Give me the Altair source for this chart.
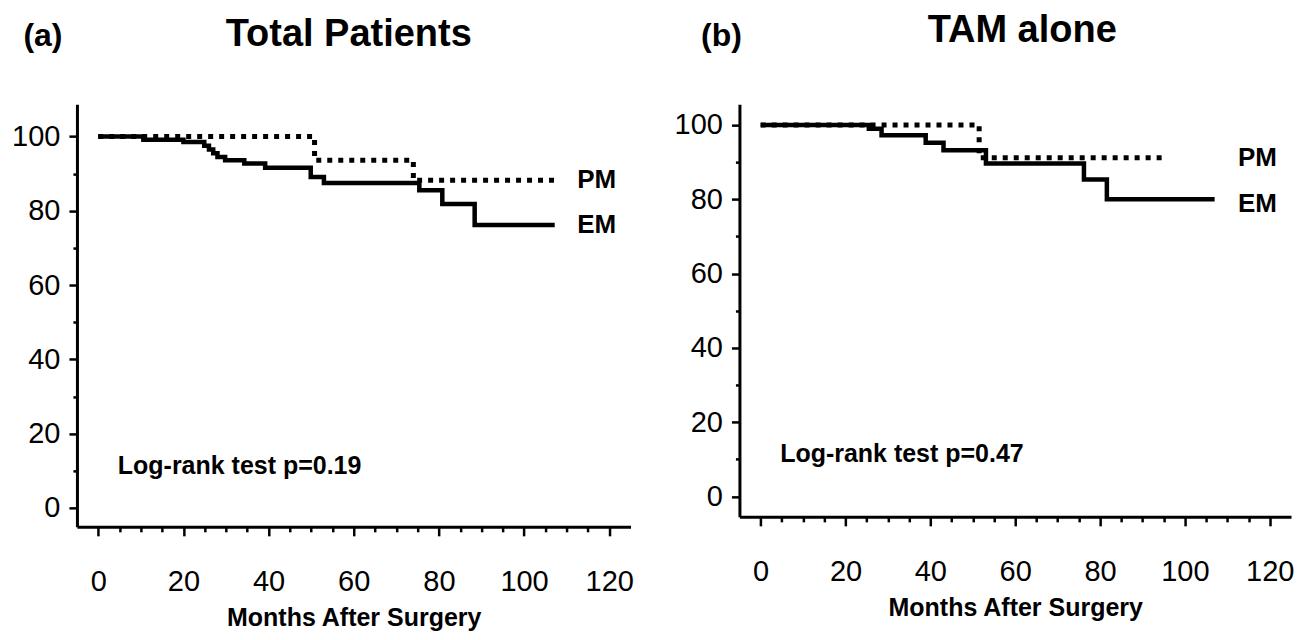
import altair as alt
import pandas as pd

# ---------------- data ----------------
# (a) Total Patients
a_em_month = [0, 10.6, 20, 24.9, 26, 27, 28, 29.8, 34.3, 39.2, 49.9, 53, 75.4, 80.8, 88.4, 107.2]
a_em_surv = [100, 99.1, 98.5, 97.5, 96.5, 95.5, 94.5, 93.6, 92.7, 91.6, 89.1, 87.5, 85.5, 81.8, 76.2, 76.2]
a_pm_month = [0, 50.8, 74, 108]
a_pm_surv = [100, 93.6, 88.2, 88.2]

# (b) TAM alone
b_em_month = [0, 25.5, 28.5, 38.9, 43.1, 53.1, 76.2, 81.6, 107]
b_em_surv = [100, 99.0, 97.2, 95.2, 93.2, 89.6, 85.3, 80.0, 80.0]
b_pm_month = [0, 51.5, 95]
b_pm_surv = [100, 91.2, 91.2]

groups = ["PM", "EM"]
label_month = 112.5
a_label_surv = [88.2, 76.2]
b_label_surv = [91.0, 78.8]

pvalue_text = ["Log-rank test  p=0.19", "Log-rank test  p=0.47"]
pvalue_month = 4.6
pvalue_surv = 11.3

x_ticks = list(range(0, 121, 5))
y_ticks = list(range(0, 101, 10))

FONT = "Liberation Sans, Arial, sans-serif"


def panel(em_m, em_s, pm_m, pm_s, lab_s, ptxt, ydom, width, height,
          title, title_x, title_y, tag, tag_x, tag_y):
    em = pd.DataFrame({"month": em_m, "surv": em_s})
    pm = pd.DataFrame({"month": pm_m, "surv": pm_s})
    labs = pd.DataFrame({"month": [label_month] * 2, "surv": lab_s, "txt": groups})
    pv = pd.DataFrame({"month": [pvalue_month], "surv": [pvalue_surv], "txt": [ptxt]})

    xs = alt.Scale(domain=[-5, 125], nice=False, zero=False)
    ys = alt.Scale(domain=ydom, nice=False, zero=False)
    xax = alt.Axis(
        values=x_ticks, labelExpr="datum.value % 20 === 0 ? datum.label : ''",
        tickSize={"condition": {"test": "datum.value % 20 === 0", "value": 9}, "value": 5},
        tickWidth=2.5, tickColor="black", domainColor="black", domainWidth=3,
        labelFont=FONT, labelFontSize=29, labelColor="black", labelPadding=32,
        labelFlush=False, labelOverlap=False, grid=False,
        title="Months After Surgery", titleFont=FONT, titleFontSize=25,
        titleFontWeight="bold", titleColor="black", titlePadding=9,
    )
    yax = alt.Axis(
        values=y_ticks, labelExpr="datum.value % 20 === 0 ? datum.label : ''",
        tickSize={"condition": {"test": "datum.value % 20 === 0", "value": 8}, "value": 4},
        tickWidth=2.5, tickColor="black", domainColor="black", domainWidth=3,
        labelFont=FONT, labelFontSize=29, labelColor="black", labelPadding=9,
        labelOverlap=False, grid=False, title=None,
    )
    X = alt.X("month:Q", scale=xs, axis=xax)
    Y = alt.Y("surv:Q", scale=ys, axis=yax)

    pm_line = alt.Chart(pm).mark_line(
        interpolate="step-after", color="black", strokeWidth=5,
        strokeDash=[5, 6], strokeCap="butt").encode(x=X, y=Y)
    em_line = alt.Chart(em).mark_line(
        interpolate="step-after", color="black", strokeWidth=4.5,
        strokeCap="butt").encode(x=X, y=Y)
    lab = alt.Chart(labs).mark_text(
        align="left", baseline="middle", font=FONT, fontSize=26,
        fontWeight="bold", color="black").encode(x=X, y=Y, text="txt:N")
    ptext = alt.Chart(pv).mark_text(
        align="left", baseline="middle", font=FONT, fontSize=25,
        fontWeight="bold", color="black").encode(x=X, y=Y, text="txt:N")
    ttl = alt.Chart(pd.DataFrame({"txt": [title]})).mark_text(
        align="center", baseline="alphabetic", font=FONT, fontSize=38,
        fontWeight="bold", color="black").encode(
        x=alt.value(title_x), y=alt.value(title_y), text="txt:N")
    tg = alt.Chart(pd.DataFrame({"txt": [tag]})).mark_text(
        align="center", baseline="alphabetic", font=FONT, fontSize=32,
        fontWeight="bold", color="black").encode(
        x=alt.value(tag_x), y=alt.value(tag_y), text="txt:N")

    return alt.layer(pm_line, em_line, lab, ptext, ttl, tg).properties(
        width=width, height=height)


pa = panel(a_em_month, a_em_surv, a_pm_month, a_pm_surv, a_label_surv,
           pvalue_text[0], [-5.1, 108.7], 554, 423,
           "Total Patients", 272, -58, "(a)", -34, -58)
pb = panel(b_em_month, b_em_surv, b_pm_month, b_pm_surv, b_label_surv,
           pvalue_text[1], [-5.5, 105.6], 552, 413,
           "TAM alone", 283, -62, "(b)", -18, -58)

chart = alt.hconcat(pa, pb, spacing=40).properties(
    padding={"left": 3, "top": 4, "right": 2, "bottom": 0},
    background="white",
).configure_view(stroke=None)

chart.save("out.html", embed_options={"renderer": "svg", "actions": False})
